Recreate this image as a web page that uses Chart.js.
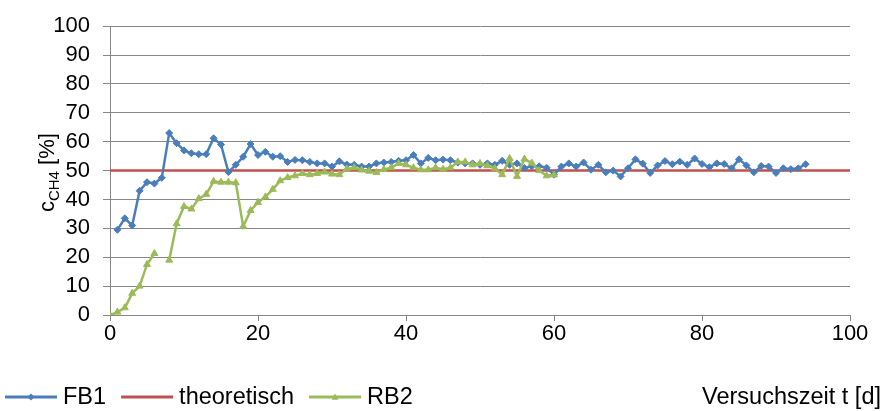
<!DOCTYPE html>
<html>
<head>
<meta charset="utf-8">
<script src="https://cdn.jsdelivr.net/npm/chart.js@4/dist/chart.umd.min.js"></script>
<style>
  html, body { margin: 0; padding: 0; background: #fff; }
  #wrap { width: 887px; height: 411px; }
</style>
</head>
<body>
<div id="wrap"><canvas id="chart"></canvas></div>
<script>
// FB1, measured daily from day 1
const fb1Start = 1
const fb1Values = [29.5, 33.5, 31, 43, 46, 45.5, 47.5, 63, 59.5, 57,
  56, 55.7, 55.7, 61.2, 59, 49.5, 52, 54.8, 59.2, 55.4,
  56.5, 54.8, 55, 53, 53.7, 53.6, 53, 52.5, 52.5, 51.4,
  53.2, 52.1, 52, 51.4, 51.4, 52.5, 52.8, 53, 53.4, 53.6,
  55.4, 52.5, 54.4, 53.6, 53.8, 53.6, 52.8, 52.5, 52.5, 52,
  52.5, 52, 53.4, 52, 52.5, 50.9, 51.5, 51.5, 51, 48.6,
  51.4, 52.5, 51.4, 52.8, 50.3, 52, 49.4, 50, 48, 50.8,
  53.9, 52.4, 49.2, 51.8, 53.3, 52.2, 53.1, 52, 54.2, 52.3,
  51.2, 52.5, 52.3, 50.8, 53.9, 51.8, 49.4, 51.6, 51.4, 49.2,
  50.8, 50.5, 50.8, 52.2]

// RB2, measured daily from day 0 (no value on day 7)
const rb2Start = 0
const rb2Values = [0, 1, 2.5, 7.5, 10, 17.5, 21.3, null, 19, 31.6,
  37.6, 36.7, 40.3, 41.8, 46.3, 46, 46, 45.8, 30.7, 36.2,
  39, 40.9, 43.5, 46.5, 47.6, 48.2, 49, 48.6, 49, 49.5,
  48.8, 48.6, 50.6, 51, 50.2, 49.8, 49.3, 50.4, 51, 52.5,
  52, 51, 50.3, 50.3, 51, 50.5, 51, 53, 53, 52,
  52.5, 51.7, 50.8, 48.6, 54.2, 48, 54, 52.6, 50, 48.2,
  48.5]

const theoTimes = [0, 100]
const theoValues = [50, 50]

const xTicks = [0, 20, 40, 60, 80, 100]
const yTicks = [0, 10, 20, 30, 40, 50, 60, 70, 80, 90, 100]

const toPoints = (times, values) => values.map((v, i) => ({ x: times[i], y: v }))
const dayList = (start, values) => values.map((_, i) => start + i)

const FONT = "'Liberation Sans', Arial, sans-serif"
const gridColor = '#878787'

function drawMarker(ctx, style, x, y, r, color) {
  ctx.fillStyle = color
  ctx.beginPath()
  if (style === 'rectRot') {
    ctx.moveTo(x, y - r); ctx.lineTo(x + r, y); ctx.lineTo(x, y + r); ctx.lineTo(x - r, y)
  } else {
    ctx.moveTo(x, y - r); ctx.lineTo(x + r, y + r * 0.8); ctx.lineTo(x - r, y + r * 0.8)
  }
  ctx.closePath()
  ctx.fill()
}

// legend row + axis titles drawn by hand (x title sits on the legend row)
const extraText = {
  id: 'extraText',
  afterDraw(chart) {
    const ctx = chart.ctx
    const area = chart.chartArea
    ctx.save()
    const legendFont = '23.5px ' + FONT
    const rowY = 397

    ctx.font = legendFont
    ctx.textBaseline = 'middle'
    ctx.textAlign = 'left'
    let x = 5
    chart.data.datasets.forEach(ds => {
      ctx.strokeStyle = ds.borderColor
      ctx.lineWidth = 3
      ctx.beginPath()
      ctx.moveTo(x, rowY)
      ctx.lineTo(x + 52, rowY)
      ctx.stroke()
      if (ds.pointRadius > 0) drawMarker(ctx, ds.pointStyle, x + 26, rowY, 3.5, ds.borderColor)
      ctx.fillStyle = '#000'
      ctx.fillText(ds.label, x + 58, rowY + 1)
      x += 58 + ctx.measureText(ds.label).width + 15
    })

    ctx.textAlign = 'right'
    ctx.fillText('Versuchszeit t [d]', 881, rowY + 1)

    // y axis title with subscript
    const cx = 46
    const cy = (area.top + area.bottom) / 2 + 2
    ctx.translate(cx, cy)
    ctx.rotate(-Math.PI / 2)
    ctx.textAlign = 'left'
    ctx.textBaseline = 'alphabetic'
    const big = '22px ' + FONT
    const small = '15px ' + FONT
    ctx.font = big
    const w1 = ctx.measureText('c').width
    const w3 = ctx.measureText(' [%]').width
    ctx.font = small
    const w2 = ctx.measureText('CH4').width
    let tx = -(w1 + w2 + w3) / 2
    const base = 8
    ctx.fillStyle = '#000'
    ctx.font = big
    ctx.fillText('c', tx, base)
    tx += w1
    ctx.font = small
    ctx.fillText('CH4', tx, base + 5)
    tx += w2
    ctx.font = big
    ctx.fillText(' [%]', tx, base)
    ctx.restore()
  }
}

new Chart(document.getElementById('chart'), {
  type: 'line',
  data: {
    datasets: [
      {
        label: 'FB1',
        data: toPoints(dayList(fb1Start, fb1Values), fb1Values),
        borderColor: '#4A7EBB',
        backgroundColor: '#4A7EBB',
        borderWidth: 2.5,
        pointStyle: 'rectRot',
        pointRadius: 3.5,
        pointBorderWidth: 1,
        tension: 0,
        order: 1
      },
      {
        label: 'theoretisch',
        data: toPoints(theoTimes, theoValues),
        borderColor: '#C0504D',
        backgroundColor: '#C0504D',
        borderWidth: 2.5,
        pointRadius: 0,
        order: 2
      },
      {
        label: 'RB2',
        data: toPoints(dayList(rb2Start, rb2Values), rb2Values),
        borderColor: '#9BBB59',
        backgroundColor: '#9BBB59',
        borderWidth: 2.5,
        pointStyle: 'triangle',
        pointRadius: 4,
        pointBorderWidth: 1,
        spanGaps: false,
        tension: 0,
        order: 0
      }
    ]
  },
  options: {
    responsive: true,
    maintainAspectRatio: false,
    animation: false,
    layout: {
      padding: { top: 20, right: 37, left: 0, bottom: 0 }
    },
    plugins: {
      tooltip: { enabled: false },
      legend: { display: false }
    },
    scales: {
      x: {
        type: 'linear',
        min: 0,
        max: 100,
        afterBuildTicks: (scale) => { scale.ticks = xTicks.map(v => ({ value: v })) },
        afterFit: (scale) => { scale.height = 96 },
        grid: {
          drawOnChartArea: false,
          drawTicks: true,
          tickLength: 6,
          color: gridColor
        },
        border: { color: gridColor, width: 1 },
        ticks: {
          color: '#000',
          padding: 0,
          maxRotation: 0,
          autoSkip: false,
          font: { family: FONT, size: 22 }
        }
      },
      y: {
        min: 0,
        max: 100,
        afterBuildTicks: (scale) => { scale.ticks = yTicks.map(v => ({ value: v })) },
        afterFit: (scale) => { scale.width = 110 },
        grid: {
          color: gridColor,
          lineWidth: 1,
          drawTicks: true,
          tickLength: 7
        },
        border: { color: gridColor, width: 1 },
        ticks: {
          color: '#000',
          padding: 13,
          autoSkip: false,
          font: { family: FONT, size: 22 }
        }
      }
    }
  },
  plugins: [extraText]
})
</script>
</body>
</html>
